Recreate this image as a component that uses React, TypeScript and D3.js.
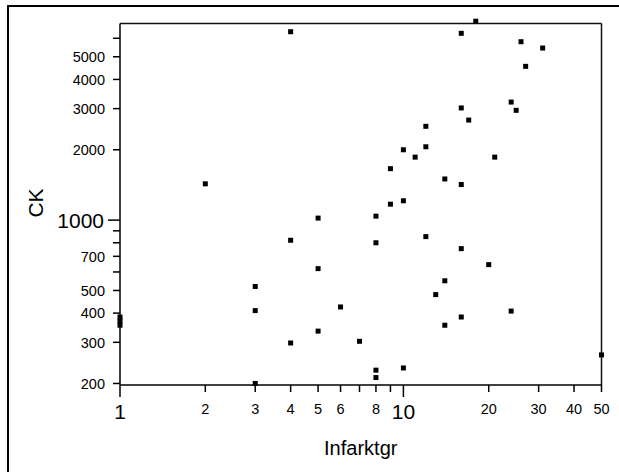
import React from 'react';
import * as d3 from 'd3';

// infarct size (x) and CK (y)
const infarktgr = [4, 18, 16, 26, 31, 27, 24, 25, 16, 17, 12, 12, 10, 11, 21, 2, 9, 14, 16, 9, 10, 5, 8, 4, 8, 12, 16, 5, 20, 3, 14, 13, 6, 3, 24, 16, 14, 5, 4, 7, 1, 1, 1, 50, 10, 8, 8, 3];
const ck = [6400, 7100, 6300, 5800, 5450, 4550, 3200, 2950, 3020, 2680, 2520, 2060, 2000, 1860, 1860, 1430, 1660, 1500, 1420, 1170, 1210, 1020, 1040, 820, 800, 850, 755, 620, 645, 520, 550, 480, 425, 410, 408, 385, 355, 335, 298, 303, 385, 370, 355, 265, 233, 228, 212, 200];

const xTicks = [1, 2, 3, 4, 5, 6, 7, 8, 9, 10, 20, 30, 40, 50];
const xLabeled = [1, 2, 3, 4, 5, 6, 8, 10, 20, 30, 40, 50];
const yTicks = [200, 300, 400, 500, 600, 700, 800, 900, 1000, 2000, 3000, 4000, 5000, 6000];
const yLabeled = [200, 300, 400, 500, 700, 1000, 2000, 3000, 4000, 5000];
const majorTicks = [1, 10, 1000];

const W = 619;
const H = 472;
const font = '"Liberation Sans", Arial, sans-serif';

const App = () => {
  const left = 120, right = 601.5, top = 23.5, bottom = 385;
  const x = d3.scaleLog().domain([1, 50]).range([left, right]);
  const y = d3.scaleLog().domain([197, 6940]).range([bottom, top]);
  const pts = d3.zip(infarktgr, ck);

  return (
    <svg width={W} height={H} style={{ position: 'absolute', left: 0, top: 0, display: 'block' }} fontFamily={font}>
      <rect x={0} y={0} width={W} height={H} fill="#fff" />
      {/* outer frame, runs off the right and bottom */}
      <rect x={8} y={6} width={W + 20} height={H + 20} fill="none" stroke="#000" strokeWidth={2} />

      {/* plot frame */}
      <line x1={left} x2={right} y1={top} y2={top} stroke="#111" strokeWidth={1.5} />
      <line x1={right} x2={right} y1={top} y2={bottom} stroke="#111" strokeWidth={1.5} />

      {/* y axis */}
      <line x1={left} x2={left} y1={top} y2={bottom} stroke="#000" strokeWidth={1.5} />
      {yTicks.map(t => {
        const big = majorTicks.includes(t);
        return (
          <g key={'y' + t}>
            <line x1={left - (big ? 12 : 7)} x2={left} y1={y(t)} y2={y(t)} stroke="#000" strokeWidth={1.5} />
            {yLabeled.includes(t) && (
              <text x={big ? 104 : 105} y={y(t)} dy="0.36em" textAnchor="end" fontSize={big ? 21 : 14.5}>
                {t}
              </text>
            )}
          </g>
        );
      })}

      {/* x axis */}
      <line x1={left} x2={right} y1={bottom} y2={bottom} stroke="#000" strokeWidth={1.5} />
      {xTicks.map(t => {
        const big = majorTicks.includes(t);
        return (
          <g key={'x' + t}>
            <line x1={x(t)} x2={x(t)} y1={bottom} y2={bottom + (big ? 12 : 7)} stroke="#000" strokeWidth={1.5} />
            {xLabeled.includes(t) && (
              <text x={x(t)} y={big ? 419 : 414} textAnchor="middle" fontSize={big ? 21 : 14.5}>
                {t}
              </text>
            )}
          </g>
        );
      })}

      {/* points */}
      {pts.map(([a, b], i) => (
        <rect key={i} x={x(a) - 2.5} y={y(b) - 2.5} width={5} height={5} fill="#000" />
      ))}

      <text x={(left + right) / 2} y={455} textAnchor="middle" fontSize={20}>Infarktgr</text>
      <text transform={`translate(43,203) rotate(-90)`} textAnchor="middle" fontSize={21}>CK</text>
    </svg>
  );
};

export default App;
